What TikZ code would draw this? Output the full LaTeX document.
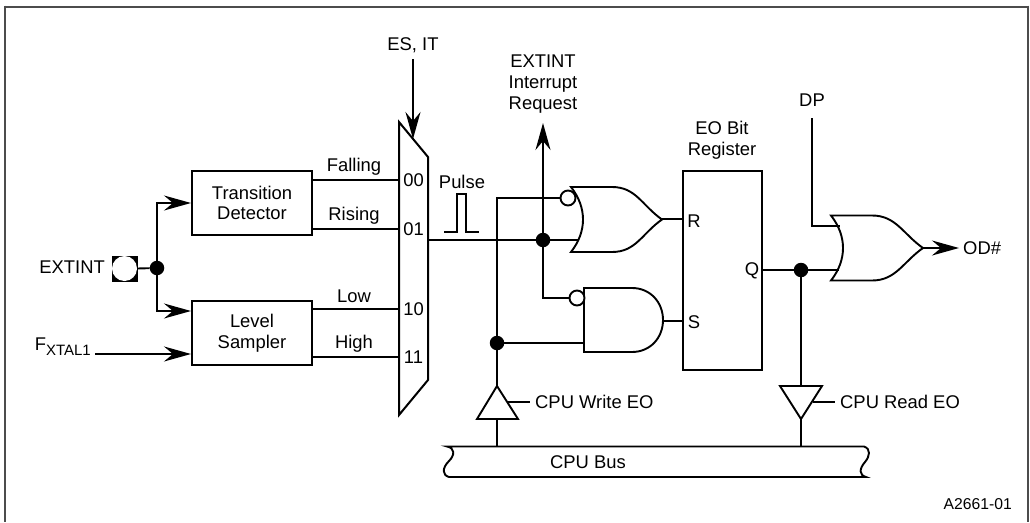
\documentclass[tikz,border=0pt]{standalone}
\usepackage{fontspec}
\setmainfont{Liberation Sans}
\usetikzlibrary{arrows.meta, calc}
\newcommand{\lbl}{\fontsize{18.4}{21.5}\selectfont}
\tikzset{
  wire/.style={line width=1.9pt, color=black, line join=miter},
  arrow/.style={-{Stealth[length=27pt, width=15pt, inset=9pt]}, wire},
  logicbox/.style={rectangle, draw=black, fill=white, line width=2pt, align=center, font=\lbl},
  gate/.style={draw=black, fill=white, line width=1.9pt, line join=miter},
  bubble/.style={circle, draw=black, fill=white, line width=1.9pt, inner sep=0pt, minimum size=15pt},
  dot/.style={circle, fill=black, inner sep=0pt, minimum size=14.5pt},
  label/.style={font=\lbl, align=center, inner sep=0pt}
}
% or gate: back corner x, middle y, tip x
\newcommand{\orgate}[3]{%
  \draw[gate] (#1,#2-32.5) -- ++(41,0) .. controls ++(24,0) and ++(-20,-14) .. ($(#3,#2)$)
    .. controls ++(-20,14) and ++(24,0) .. (#1+41,#2+32.5) -- (#1,#2+32.5)
    .. controls (#1+16,#2+12) and (#1+16,#2-12) .. cycle;}
\begin{document}
\begin{tikzpicture}[x=1pt, y=-1pt]
  \useasboundingbox (0,0) rectangle (1030,522);

  % Frame
  \draw[line width=2pt, color=black!70] (5,6.5) -- (1028,6.5);
  \draw[line width=2pt, color=black!70] (5,5.5) -- (5,522);
  \draw[line width=2pt, color=black!70] (1028,5.5) -- (1028,522);

  % Blocks
  \node[logicbox, minimum width=120pt, minimum height=64pt] (det) at (252,203) {Transition\\[-1pt]Detector};
  \node[logicbox, minimum width=120pt, minimum height=64pt] (smp) at (252,333) {Level\\[-1pt]Sampler};
  \node[logicbox, minimum width=79pt, minimum height=199pt] (reg) at (722.5,270.5) {};

  % Multiplexer
  \draw[gate, line width=2pt] (399,122) -- (428,157) -- (428,380) -- (399,415) -- cycle;
  \coordinate (muxIn) at (413,139);
  \coordinate (muxOut) at (428,240);

  % Pin and inputs
  \node[rectangle, fill=black, minimum size=26pt, inner sep=0pt] (pin) at (124.5,268.5) {};
  \node[circle, fill=white, minimum size=25pt, inner sep=0pt] (pinhole) at (124.5,268.5) {};
  \node[dot] (split) at (157,268) {};
  \coordinate (xtal) at (95,354);
  \node[label, anchor=east] (extintlbl) at (105,267) {EXTINT};
  \node[label, anchor=east] (xtallbl) at (91,347) {F\raisebox{-5pt}{\fontsize{15}{16}\selectfont XTAL1}};
  \draw[wire] (pinhole.east) -- (split);
  \draw[arrow] (split) |- (det.west |- 0,203);
  \draw[arrow] (split) |- (smp.west |- 0,311);
  \draw[arrow] (xtal) -- (smp.west |- xtal);

  % Mux inputs
  \foreach \nm/\y/\sig/\code/\from in {a/180/Falling/00/det, b/229/Rising/01/det, c/309/Low/10/smp, d/357/High/11/smp}{
    \coordinate (in\nm) at (399,\y);
    \draw[wire] (\from.east |- in\nm) -- (in\nm);
    \node[label] (sig\nm) at (354,\y-13) {\sig};
    \node[label] (code\nm) at (413.5,\y) {\code};
  }

  % Select input
  \node[label] (eslbl) at (413,45) {ES, IT};
  \coordinate (esTop) at (413,59);
  \draw[arrow] (esTop) -- (muxIn);

  % Pulse
  \node[label] (pulselbl) at (462,182) {Pulse};
  \draw[line width=1.6pt] (444,232) -- (457,232) -- (457,194) -- (466,194) -- (466,232) -- (479,232);

  % Gates for R and S
  \orgate{571}{219.5}{662}
  \draw[gate] (584,288) -- (632,288) .. controls (650,288) and (663,302) .. (663,320)
    .. controls (663,338) and (650,352) .. (632,352) -- (584,352) -- cycle;
  \coordinate (orBack) at (579,240);
  \coordinate (andIn) at (584,343);
  \node[bubble] (orNot) at (568,198) {};
  \node[bubble] (andNot) at (577,298) {};
  \node[dot] (reqDot) at (543,240) {};
  \node[dot] (wrDot) at (497,343) {};
  \coordinate (reqTop) at (543,123);

  % Connections at the gates
  \draw[wire] (muxOut) -- (reqDot) -- (orBack);
  \draw[arrow] (reqDot) -- (reqTop);
  \draw[wire] (reqDot) |- (andNot);
  \draw[wire] (orNot) -| (wrDot);
  \draw[wire] (wrDot) -- (andIn);
  \coordinate (orOut) at (662,219);
  \coordinate (andOut) at (663,321);
  \draw[wire] (orOut) -- (reg.west |- orOut);
  \draw[wire] (andOut) -- (reg.west |- andOut);

  % Register labels
  \node[label] (reqlbl) at (543,84.5) {EXTINT\\[-0.5pt]Interrupt\\[-0.5pt]Request};
  \node[label] (reglbl) at (722,140) {EO Bit\\[-0.5pt]Register};
  \node[label] (rlbl) at (694,221) {R};
  \node[label] (slbl) at (694,322) {S};
  \node[label] (qlbl) at (752,271) {Q};

  % Output gate
  \orgate{831}{248}{923}
  \coordinate (qOut) at (762,270);
  \coordinate (orB) at (839,270);
  \coordinate (orA) at (840,226);
  \coordinate (dpTop) at (812,118);
  \coordinate (orOut2) at (923,248);
  \coordinate (odEnd) at (959,248);
  \node[dot] (qDot) at (801,270) {};
  \node[label] (dplbl) at (812,100) {DP};
  \node[label, anchor=west] (odlbl) at (963,248) {OD\#};
  \draw[wire] (qOut) -- (qDot) -- (orB);
  \draw[wire] (dpTop) |- (orA);
  \draw[arrow] (orOut2) -- (odEnd);

  % Bus
  \draw[gate] (447,446.5) -- (864,446.5) .. controls (871,449) and (870,456) .. (865,462)
    .. controls (859,469) and (859,475) .. (866,477) -- (449,477)
    .. controls (442,475) and (442,468) .. (449,461) .. controls (455,455) and (455,448) .. cycle;
  \node[label] (buslbl) at (588,462) {CPU Bus};
  \coordinate (wrBus) at (497,447);
  \coordinate (rdBus) at (801,447);

  % Buffers
  \draw[gate] (497,386) -- (518,419) -- (477,419) -- cycle;
  \draw[gate] (780,386) -- (822,386) -- (801,419) -- cycle;
  \coordinate (wrApex) at (497,386);
  \coordinate (wrBase) at (497,419);
  \coordinate (rdBase) at (801,386);
  \coordinate (rdApex) at (801,419);
  \coordinate (wrCtl) at (508,402);
  \coordinate (rdCtl) at (813,402);
  \node[label, anchor=west] (wrlbl) at (535,402) {CPU Write EO};
  \node[label, anchor=west] (rdlbl) at (840,402) {CPU Read EO};
  \draw[wire] (wrDot) -- (wrApex);
  \draw[wire] (wrBase) -- (wrBus);
  \draw[wire] (qDot) -- (rdBase);
  \draw[wire] (rdApex) -- (rdBus);
  \draw[wire] (wrCtl) -- ++(22,0);
  \draw[wire] (rdCtl) -- ++(22,0);

  \node[label, anchor=east, font=\fontsize{15.7}{18}\selectfont] (figlbl) at (1012,504) {A2661-01};
\end{tikzpicture}
\end{document}
